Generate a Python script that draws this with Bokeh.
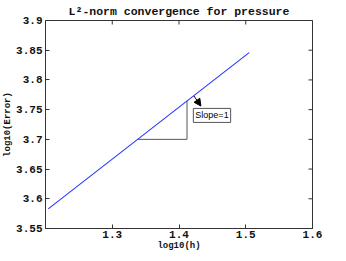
import math
from bokeh.plotting import figure
from bokeh.models import (FixedTicker, Label, Arrow, NormalHead,
                          Range1d, Title)
from bokeh.embed import file_html
from bokeh.resources import INLINE

# data
log_h = [1.2041, 1.5051]
log_err = [3.583, 3.846]

x_ticks = [1.3, 1.4, 1.5, 1.6]
y_ticks = [3.55, 3.6, 3.65, 3.7, 3.75, 3.8, 3.85, 3.9]

tri_x = [1.338, 1.412, 1.412]
tri_y = [3.70, 3.70, 3.765]

arrow_from = (1.4224, 3.773)
arrow_to = (1.4328, 3.756)
label_pos = (1.4215, 3.7285)
label_text = "Slope=1"

X0, X1 = 1.2, 1.6
Y0, Y1 = 3.55, 3.9

MONO = "Liberation Mono"
AXC = "#333333"

p = figure(frame_width=267, frame_height=208, output_backend="svg",
           toolbar_location=None,
           x_range=Range1d(X0, X1), y_range=Range1d(Y0, Y1),
           min_border_left=37, min_border_right=26, min_border_top=17,
           min_border_bottom=20)
p.title = Title(text="L\u00b2-norm convergence for pressure", align="center",
                text_font=MONO, text_font_size="11.5px", text_font_style="bold",
                text_color="#111111", standoff=5, offset=0)
p.xgrid.visible = False
p.ygrid.visible = False
p.outline_line_color = AXC
p.background_fill_color = "white"
p.border_fill_color = "white"

for ax in [p.xaxis[0], p.yaxis[0]]:
    ax.axis_line_color = AXC
    ax.major_tick_line_color = AXC
    ax.major_tick_in = 4
    ax.major_tick_out = 0
    ax.minor_tick_line_color = None
    ax.major_label_text_font = MONO
    ax.major_label_text_font_size = "11px"
    ax.major_label_text_font_style = "bold"
    ax.major_label_text_color = "#111111"
    ax.axis_label_text_font = MONO
    ax.axis_label_text_font_size = "9px"
    ax.axis_label_text_font_style = "bold"
    ax.axis_label_text_color = "#111111"
    ax.axis_label_standoff = 0
    ax.major_label_standoff = 2

p.xaxis[0].ticker = FixedTicker(ticks=x_ticks)
p.yaxis[0].ticker = FixedTicker(ticks=y_ticks)
p.xaxis[0].axis_label = "log10(h)"
p.yaxis[0].axis_label = "log10(Error)"
p.yaxis[0].major_label_standoff = 3

# inward ticks on the top and right edges of the box (clipped to frame)
p.scatter(x_ticks, [Y1] * len(x_ticks), marker="dash", size=8,
          angle=math.pi / 2, line_color=AXC, line_width=1)
p.scatter([X1] * len(y_ticks), y_ticks, marker="dash", size=8,
          line_color=AXC, line_width=1)

p.line(log_h, log_err, line_color="#2636ff", line_width=1.1)
p.line(tri_x, tri_y, line_color="#555555", line_width=1)

p.add_layout(Arrow(end=NormalHead(size=7, fill_color="black", line_color="black"),
                   x_start=arrow_from[0], y_start=arrow_from[1],
                   x_end=arrow_to[0], y_end=arrow_to[1],
                   line_color="black", line_width=1))
p.add_layout(Label(x=label_pos[0], y=label_pos[1], text=label_text,
                   text_font="Liberation Sans", text_font_size="9px",
                   text_color="black", border_line_color="#555555",
                   background_fill_color="white", padding=2))

open("out.html", "w").write(file_html(p, INLINE))
